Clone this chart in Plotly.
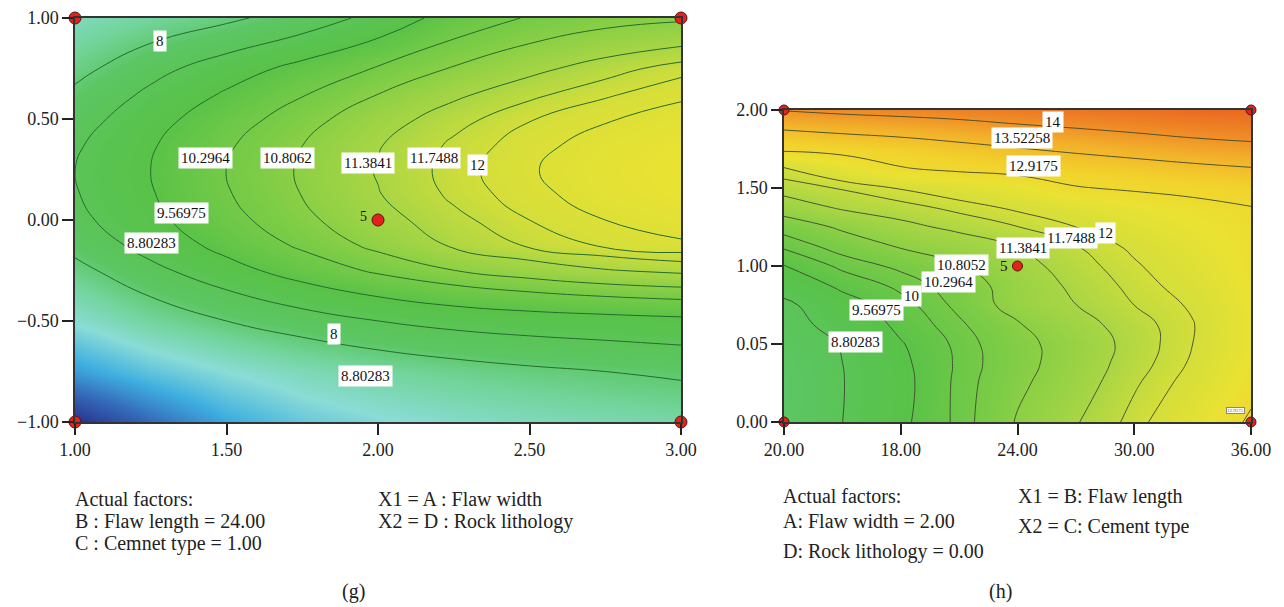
import plotly.graph_objects as go

W, H = 1284, 607

# ---------------- (g) : X1 = A flaw width, X2 = D rock lithology ----------------
g_x = [1.0, 1.25, 1.5, 1.75, 2.0, 2.25, 2.5, 2.75, 3.0]
g_y = [-1.0, -0.75, -0.5, -0.25, -0.125, 0.0, 0.125, 0.25, 0.375, 0.5, 0.625, 0.75, 1.0]
g_z = [
    [3.0, 4.3, 5.4, 6.1, 6.5, 6.8, 7.0, 7.15, 7.3],
    [5.2, 6.0, 6.6, 7.05, 7.4, 7.65, 7.85, 8.0, 8.15],
    [6.7, 7.45, 8.0, 8.45, 8.8, 9.05, 9.2, 9.3, 9.4],
    [7.75, 8.6, 9.3, 9.9, 10.4, 10.8, 11.1, 11.35, 11.5],
    [8.25, 9.1, 9.8, 10.4, 10.95, 11.45, 11.8, 12.05, 12.2],
    [8.6, 9.38, 10.1, 10.68, 11.2, 11.65, 12.0, 12.25, 12.4],
    [8.75, 9.52, 10.25, 10.82, 11.36, 11.82, 12.16, 12.4, 12.56],
    [8.8, 9.57, 10.3, 10.87, 11.42, 11.88, 12.22, 12.45, 12.6],
    [8.7, 9.5, 10.22, 10.8, 11.35, 11.81, 12.15, 12.38, 12.54],
    [8.45, 9.3, 10.0, 10.6, 11.15, 11.62, 11.98, 12.22, 12.4],
    [8.15, 8.95, 9.65, 10.25, 10.8, 11.28, 11.66, 11.95, 12.18],
    [7.75, 8.55, 9.2, 9.8, 10.35, 10.85, 11.25, 11.6, 11.9],
    [7.0, 7.45, 7.85, 8.35, 9.05, 9.9, 10.35, 10.6, 10.72],
]
g_levels = [8, 8.80283, 9.56975, 10.2964, 10.8062, 11.3841, 11.7488, 12, 12.25]
g_label_text = ["8", "10.2964", "10.8062", "11.3841", "11.7488", "12",
                "9.56975", "8.80283", "8", "8.80283"]
g_label_x = [1.281, 1.432, 1.700, 1.967, 2.185, 2.330, 1.350, 1.251, 1.855, 1.960]
g_label_y = [0.886, 0.307, 0.307, 0.282, 0.307, 0.272, 0.035, -0.114, -0.564, -0.772]
g_tick_x = [1.0, 1.5, 2.0, 2.5, 3.0]
g_tick_x_text = ["1.00", "1.50", "2.00", "2.50", "3.00"]
g_tick_y = [-1.0, -0.5, 0.0, 0.5, 1.0]
g_tick_y_text = ["\u22121.00", "\u22120.50", "0.00", "0.50", "1.00"]
g_pts_x = [1, 1, 3, 3, 2]
g_pts_y = [-1, 1, -1, 1, 0]

# ---------------- (h) : X1 = B flaw length, X2 = C cement type ----------------
h_x = [0, 0.5, 1, 1.5, 2, 2.5, 3, 3.5, 4]
h_y = [0, 0.5, 0.75, 1.0, 1.25, 1.5, 1.75, 2.0, 2.25, 2.5, 2.75, 3.0, 3.25, 3.5, 4.0]
h_z = [
    [8.2, 8.8, 9.45, 10.1, 10.85, 11.35, 11.87, 12.4, 13.0],
    [8.15, 8.78, 9.4, 10.1, 10.7, 11.15, 11.7, 12.15, 12.75],
    [8.25, 8.8, 9.45, 10.07, 10.63, 11.08, 11.6, 12.05, 12.65],
    [8.4, 8.85, 9.53, 10.1, 10.65, 11.05, 11.55, 12.0, 12.55],
    [8.5, 9.1, 9.7, 10.23, 10.76, 11.2, 11.6, 11.98, 12.55],
    [8.65, 9.3, 9.85, 10.4, 11.05, 11.38, 11.75, 12.05, 12.6],
    [9.1, 9.7, 10.1, 10.5, 11.08, 11.48, 11.85, 12.17, 12.65],
    [9.55, 10.1, 10.38, 10.78, 11.2, 11.6, 11.95, 12.3, 12.7],
    [10.07, 10.45, 10.85, 11.1, 11.4, 11.73, 12.08, 12.4, 12.75],
    [10.45, 10.9, 11.25, 11.5, 11.74, 12.0, 12.3, 12.55, 12.8],
    [11.1, 11.45, 11.62, 11.85, 12.07, 12.3, 12.52, 12.72, 12.9],
    [11.58, 11.78, 12.03, 12.25, 12.5, 12.88, 13.0, 13.1, 13.2],
    [11.95, 12.4, 12.88, 13.05, 13.15, 13.25, 13.33, 13.42, 13.5],
    [13.05, 13.15, 13.25, 13.38, 13.5, 13.6, 13.7, 13.8, 13.87],
    [14.02, 14.1, 14.15, 14.2, 14.28, 14.35, 14.42, 14.5, 14.55],
]
h_levels = [8.80283, 9.56975, 10, 10.2964, 10.8052, 11.3841, 11.7488, 12,
            12.9175, 13.52258, 14]
h_label_text = ["14", "13.52258", "12.9175", "12", "11.7488", "11.3841",
                "10.8052", "10.2964", "10", "9.56975", "8.80283"]
h_label_x = [2.30, 2.04, 2.14, 2.75, 2.46, 2.05, 1.52, 1.41, 1.09, 0.79, 0.61]
h_label_y = [3.85, 3.64, 3.28, 2.42, 2.36, 2.23, 2.01, 1.79, 1.62, 1.44, 1.03]
h_tick_text_x = ["20.00", "18.00", "24.00", "30.00", "36.00"]
h_tick_text_y = ["0.00", "0.05", "1.00", "1.50", "2.00"]
h_pts_x = [0, 0, 4, 4, 2]
h_pts_y = [0, 4, 0, 4, 2]

colorscale_vals = [3.0, 4.3, 5.5, 6.6, 7.5, 8.2, 9.5, 10.5, 11.4, 12.0, 12.6, 13.2, 13.7, 14.1, 14.6]
colorscale_cols = ["#27308c", "#3468b8", "#3eaee0", "#8adcd6", "#72d49a", "#5cc664",
                   "#58c248", "#7ccc46", "#aad644", "#d4de3a", "#eae232", "#f2d22c",
                   "#f2b02a", "#ef8a26", "#ea6420"]
ZMIN, ZMAX = colorscale_vals[0], colorscale_vals[-1]
cs = [[(v - ZMIN) / (ZMAX - ZMIN), c] for v, c in zip(colorscale_vals, colorscale_cols)]

SERIF = "Liberation Serif, Times New Roman, serif"

fig = go.Figure()


def add_panel(x, y, z, levels, xa, ya, line_color, line_w):
    fig.add_trace(go.Contour(
        x=x, y=y, z=z, xaxis=xa, yaxis=ya, colorscale=cs, zmin=ZMIN, zmax=ZMAX,
        showscale=False, contours=dict(coloring="heatmap", showlines=False),
        line=dict(width=0), hoverinfo="skip"))
    for lv in levels:
        fig.add_trace(go.Contour(
            x=x, y=y, z=z, xaxis=xa, yaxis=ya, showscale=False, autocontour=False,
            contours=dict(coloring="none", start=lv, end=lv, size=1, showlabels=False),
            line=dict(color=line_color, width=line_w, smoothing=1.3), hoverinfo="skip"))


add_panel(g_x, g_y, g_z, g_levels, "x", "y", "#276b2c", 1.0)
add_panel(h_x, h_y, h_z, h_levels, "x2", "y2", "#3d4a2e", 0.9)

marker = dict(color="#e3221b", size=12, line=dict(color="#5a1010", width=1))
fig.add_trace(go.Scatter(x=g_pts_x, y=g_pts_y, mode="markers", marker=marker,
                         cliponaxis=False, xaxis="x", yaxis="y", hoverinfo="skip"))
fig.add_trace(go.Scatter(x=h_pts_x, y=h_pts_y, mode="markers", marker=dict(marker, size=10),
                         cliponaxis=False, xaxis="x2", yaxis="y2", hoverinfo="skip"))

ann = []
for t, lx, ly in zip(g_label_text, g_label_x, g_label_y):
    ann.append(dict(x=lx, y=ly, xref="x", yref="y", text=t, showarrow=False,
                    bgcolor="white", borderpad=2, font=dict(family=SERIF, size=15, color="#111")))
for t, lx, ly in zip(h_label_text, h_label_x, h_label_y):
    ann.append(dict(x=lx, y=ly, xref="x2", yref="y2", text=t, showarrow=False,
                    bgcolor="white", borderpad=2, font=dict(family=SERIF, size=15, color="#111")))
# tiny label at the lower-right corner of (h)
ann.append(dict(x=3.87, y=0.15, xref="x2", yref="y2", text="12.9175", showarrow=False,
                bgcolor="white", borderpad=0, bordercolor="#888", borderwidth=1,
                font=dict(family=SERIF, size=5, color="#555")))
# design point labels
ann.append(dict(x=2, y=0, xref="x", yref="y", text="5", showarrow=False, xanchor="right",
                xshift=-9, yshift=4, font=dict(family=SERIF, size=14, color="#111")))
ann.append(dict(x=2, y=2, xref="x2", yref="y2", text="5", showarrow=False, xanchor="right",
                xshift=-8, font=dict(family=SERIF, size=15, color="#111")))


def ptext(px, py, text, size=20, anchor="left"):
    ann.append(dict(x=px / W, y=1 - py / H, xref="paper", yref="paper", text=text,
                    showarrow=False, xanchor=anchor, yanchor="middle",
                    font=dict(family=SERIF, size=size, color="#222")))


ptext(73, 499, "Actual factors:")
ptext(73, 521, "B : Flaw length = 24.00")
ptext(73, 543, "C : Cemnet type = 1.00")
ptext(376, 499, "X1 = A : Flaw width")
ptext(376, 521, "X2 = D : Rock lithology")
ptext(354, 591, "(g)", anchor="center")
ptext(781, 496, "Actual factors:")
ptext(781, 521, "A: Flaw width = 2.00")
ptext(781, 551, "D: Rock lithology = 0.00")
ptext(1016, 496, "X1 = B: Flaw length")
ptext(1016, 526, "X2 = C: Cement type")
ptext(1000, 591, "(h)", anchor="center")

axis_common = dict(showgrid=False, zeroline=False, showline=True, mirror=True,
                   linecolor="#333", linewidth=1.5, ticks="outside", ticklen=11,
                   tickwidth=1.5, tickcolor="#222", automargin=False,
                   tickfont=dict(family=SERIF, size=18, color="#222"))

fig.update_layout(
    width=W, height=H, margin=dict(l=0, r=0, t=0, b=0, autoexpand=False),
    paper_bgcolor="white", plot_bgcolor="white", showlegend=False,
    xaxis=dict(domain=[75 / W, 681 / W], range=[1, 3], tickvals=g_tick_x,
               ticktext=g_tick_x_text, anchor="y", **axis_common),
    yaxis=dict(domain=[1 - 422 / H, 1 - 18 / H], range=[-1, 1], tickvals=g_tick_y,
               ticktext=g_tick_y_text, anchor="x", **axis_common),
    xaxis2=dict(domain=[784 / W, 1251 / W], range=[0, 4], tickvals=[0, 1, 2, 3, 4],
                ticktext=h_tick_text_x, anchor="y2", **axis_common),
    yaxis2=dict(domain=[1 - 422 / H, 1 - 110 / H], range=[0, 4], tickvals=[0, 1, 2, 3, 4],
                ticktext=h_tick_text_y, anchor="x2", **axis_common),
    annotations=ann,
)

fig.write_html("out.html")
